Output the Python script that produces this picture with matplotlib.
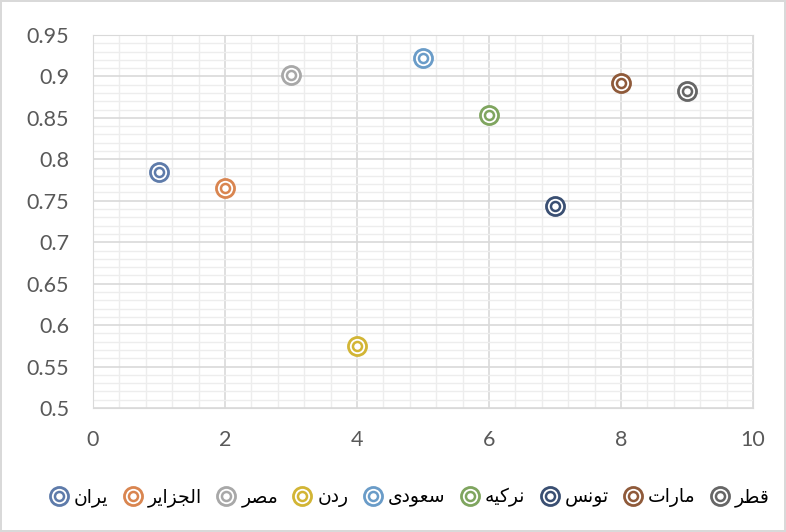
import matplotlib
matplotlib.use('Agg')
import matplotlib.pyplot as plt
from matplotlib.lines import Line2D
from matplotlib.ticker import MultipleLocator

plt.rcParams['font.family'] = ['Lato', 'DejaVu Sans']

# data
names = ['یران', 'الجزایر', 'مصر', 'ردن', 'سعودی', 'نرکیه', 'تونس', 'مارات', 'قطر']
xs = [1, 2, 3, 4, 5, 6, 7, 8, 9]
ys = [0.785, 0.765, 0.902, 0.575, 0.922, 0.853, 0.744, 0.892, 0.883]
colors = ['#5E7BAA', '#D98550', '#A8A8A8', '#D2B535', '#6A9CC8',
          '#7FA55F', '#3A4F72', '#8F5A3A', '#666666']

# simple arabic shaping (matplotlib has no bidi/shaping)
forms = {
    'ا': ('\uFE8D', '\uFE8E'), 'د': ('\uFEA9', '\uFEAA'),
    'ر': ('\uFEAD', '\uFEAE'), 'ز': ('\uFEAF', '\uFEB0'),
    'و': ('\uFEED', '\uFEEE'),
    'ت': ('\uFE95', '\uFE96', '\uFE97', '\uFE98'),
    'ج': ('\uFE9D', '\uFE9E', '\uFE9F', '\uFEA0'),
    'س': ('\uFEB1', '\uFEB2', '\uFEB3', '\uFEB4'),
    'ص': ('\uFEB9', '\uFEBA', '\uFEBB', '\uFEBC'),
    'ط': ('\uFEC1', '\uFEC2', '\uFEC3', '\uFEC4'),
    'ع': ('\uFEC9', '\uFECA', '\uFECB', '\uFECC'),
    'ق': ('\uFED5', '\uFED6', '\uFED7', '\uFED8'),
    'ل': ('\uFEDD', '\uFEDE', '\uFEDF', '\uFEE0'),
    'م': ('\uFEE1', '\uFEE2', '\uFEE3', '\uFEE4'),
    'ن': ('\uFEE5', '\uFEE6', '\uFEE7', '\uFEE8'),
    'ه': ('\uFEE9', '\uFEEA', '\uFEEB', '\uFEEC'),
    'ی': ('\uFBFC', '\uFBFD', '\uFBFE', '\uFBFF'),
    'ک': ('\uFB8E', '\uFB8F', '\uFB90', '\uFB91'),
}


def shape(word):
    out = []
    for i, ch in enumerate(word):
        f = forms[ch]
        prev_joins = i > 0 and len(forms[word[i - 1]]) == 4
        next_joins = i < len(word) - 1 and len(f) == 4
        if prev_joins and next_joins:
            out.append(f[3])
        elif prev_joins:
            out.append(f[1])
        elif next_joins:
            out.append(f[2])
        else:
            out.append(f[0])
    return ''.join(reversed(out))


fig = plt.figure(figsize=(7.86, 5.32), dpi=100, edgecolor='#D9D9D9', linewidth=1.5)
ax = fig.add_axes([0.1183, 0.2331, 0.8397, 0.7011])

handles = []
for x, y, c, n in zip(xs, ys, colors, names):
    ax.plot([x], [y], marker='o', ms=13, mfc='white', mec=c, mew=2.0, ls='none', zorder=3)
    ax.plot([x], [y], marker='o', ms=6.5, mfc='none', mec=c, mew=1.8, ls='none', zorder=4)
    h1 = Line2D([], [], marker='o', ms=13, mfc='white', mec=c, mew=2.0, ls='none')
    h2 = Line2D([], [], marker='o', ms=6.5, mfc='none', mec=c, mew=1.8, ls='none')
    handles.append((h1, h2))

ax.set_xlim(0, 10)
ax.set_ylim(0.5, 0.95)
ax.xaxis.set_major_locator(MultipleLocator(2))
ax.xaxis.set_minor_locator(MultipleLocator(0.4))
ax.yaxis.set_minor_locator(MultipleLocator(0.01))
ax.set_yticks([0.5, 0.55, 0.6, 0.65, 0.7, 0.75, 0.8, 0.85, 0.9, 0.95])
ax.set_yticklabels(['0.5', '0.55', '0.6', '0.65', '0.7', '0.75', '0.8', '0.85', '0.9', '0.95'])
ax.grid(which='major', color='#D9D9D9', lw=1.2)
ax.grid(which='minor', color='#EDEDED', lw=1.0)
ax.set_axisbelow(True)
ax.tick_params(which='both', length=0, labelsize=15.5, colors='#595959')
ax.tick_params(axis='y', pad=17)
ax.tick_params(axis='x', pad=16)
for s in ax.spines.values():
    s.set_color('#D9D9D9')

ax.legend(handles, [shape(n) for n in names], loc='center',
          bbox_to_anchor=(0.48, -0.24), ncol=9, frameon=False, fontsize=13.5,
          handlelength=1.0, handletextpad=0.3, columnspacing=0.8)

fig.savefig('out.png', dpi=100)
